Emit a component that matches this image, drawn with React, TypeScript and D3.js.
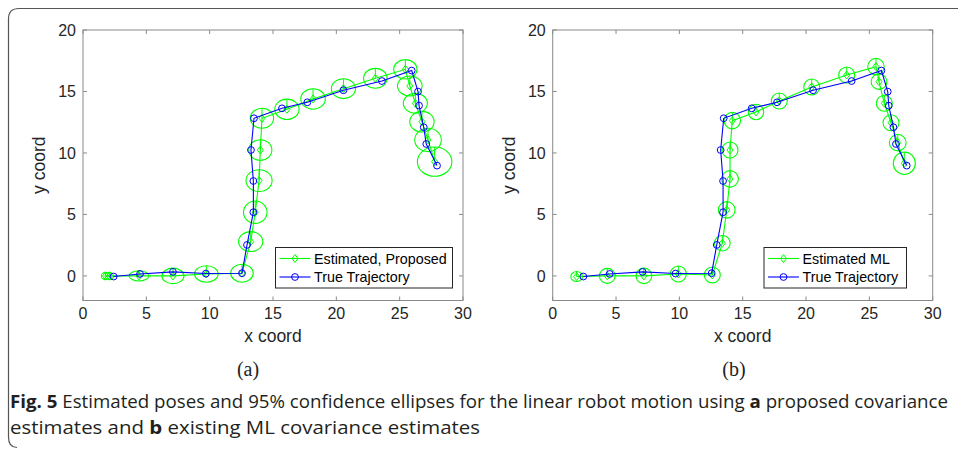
import React from "react";
import * as d3 from "d3";

// ---- data ----
const xTicks = [0, 5, 10, 15, 20, 25, 30];
const yTicks = [0, 5, 10, 15, 20];

// True trajectory (same in both panels)
const trueX = [2.42, 4.5, 7.1, 9.7, 12.55, 12.95, 13.45, 13.45, 13.26, 13.5, 15.71, 17.71, 20.56, 23.6, 25.95, 26.45, 26.53, 26.9, 27.1, 27.95];
const trueY = [-0.05, 0.16, 0.33, 0.19, 0.22, 2.52, 5.18, 7.72, 10.24, 12.82, 13.63, 14.12, 15.1, 15.85, 16.7, 14.99, 13.85, 12.09, 10.73, 8.97];

// Panel (a): proposed estimates and ellipse semi-axes (data units)
const propX = [1.78, 2.07, 4.42, 7.1, 9.74, 12.55, 13.24, 13.6, 13.9, 14.0, 14.13, 16.1, 18.16, 20.56, 23.08, 25.45, 25.8, 26.24, 26.76, 27.24, 27.76];
const propY = [0.0, 0.0, 0.0, 0.0, 0.16, 0.22, 2.79, 5.18, 7.75, 10.24, 12.82, 13.55, 14.39, 15.23, 16.07, 16.8, 15.45, 14.04, 12.54, 11.06, 9.29];
const propRx = [0.33, 0.33, 0.77, 0.87, 0.93, 0.89, 0.96, 0.93, 1.03, 0.91, 0.92, 0.96, 0.97, 0.95, 0.93, 0.92, 0.97, 0.95, 0.96, 1.05, 1.36];
const propRy = [0.3, 0.3, 0.41, 0.63, 0.67, 0.73, 0.81, 0.91, 0.89, 0.84, 0.81, 0.83, 0.83, 0.81, 0.81, 0.79, 0.81, 0.81, 0.84, 0.95, 1.19];

// Panel (b): ML estimates and ellipse semi-axes (data units)
const mlX = [1.89, 4.31, 7.2, 9.92, 12.6, 13.39, 13.74, 14.0, 14.0, 14.18, 16.05, 17.89, 20.45, 23.21, 25.52, 25.76, 26.18, 26.71, 27.24, 27.76];
const mlY = [-0.05, 0.0, 0.0, 0.16, 0.08, 2.66, 5.37, 7.89, 10.24, 12.63, 13.33, 14.23, 15.37, 16.34, 17.02, 15.8, 14.04, 12.46, 10.84, 9.16];
const mlRx = [0.46, 0.62, 0.62, 0.63, 0.63, 0.62, 0.66, 0.66, 0.63, 0.65, 0.61, 0.63, 0.63, 0.63, 0.65, 0.62, 0.63, 0.63, 0.66, 0.87];
const mlRy = [0.41, 0.61, 0.63, 0.65, 0.65, 0.63, 0.67, 0.67, 0.65, 0.67, 0.63, 0.65, 0.65, 0.65, 0.67, 0.63, 0.65, 0.65, 0.67, 0.91];

const GREEN = "#00ff00";
const BLUE = "#0000ff";
const AXIS = "#8a8a8a";
const TEXT = "#262626";
const FONT = "'Liberation Sans', Arial, sans-serif";

type PanelProps = {
  left: number;
  estX: number[];
  estY: number[];
  estRx: number[];
  estRy: number[];
  legendLabel: string;
  legendBox: { x: number; w: number };
  sub: string;
  subX: number;
};

function diamond(cx: number, cy: number, hw = 3, hh = 4) {
  return `M${cx},${cy - hh}L${cx + hw},${cy}L${cx},${cy + hh}L${cx - hw},${cy}Z`;
}

function Panel({ left, estX, estY, estRx, estRy, legendLabel, legendBox, sub, subX }: PanelProps) {
  const x = d3.scaleLinear().domain([0, 30]).range([left, left + 380]);
  const y = d3.scaleLinear().domain([-2, 20]).range([300.5, 30]);
  const [x0, x1] = x.range();
  const [yb, yt] = y.range();
  const estPts: [number, number][] = estX.map((v, i) => [x(v), y(estY[i])]);
  const truePts: [number, number][] = trueX.map((v, i) => [x(v), y(trueY[i])]);
  const lineGen = d3.line();
  const tickLen = 4;
  const midY = (yb + yt) / 2;
  const lgTop = 247.5;
  const lgH = 40.5;
  return (
    <g>
      {/* axes box */}
      <rect x={x0} y={yt} width={x1 - x0} height={yb - yt} fill="white" stroke={AXIS} strokeWidth={1} />
      {xTicks.map((t) => (
        <g key={"xt" + t}>
          <line x1={x(t)} x2={x(t)} y1={yb} y2={yb - tickLen} stroke={AXIS} />
          <line x1={x(t)} x2={x(t)} y1={yt} y2={yt + tickLen} stroke={AXIS} />
          <text x={x(t)} y={319} textAnchor="middle" fontSize={16} fontFamily={FONT} fill={TEXT}>
            {t}
          </text>
        </g>
      ))}
      {yTicks.map((t) => (
        <g key={"yt" + t}>
          <line x1={x0} x2={x0 + tickLen} y1={y(t)} y2={y(t)} stroke={AXIS} />
          <line x1={x1} x2={x1 - tickLen} y1={y(t)} y2={y(t)} stroke={AXIS} />
          <text x={x0 - 7} y={y(t)} dy="0.35em" textAnchor="end" fontSize={16} fontFamily={FONT} fill={TEXT}>
            {t}
          </text>
        </g>
      ))}
      <text x={(x0 + x1) / 2} y={342} textAnchor="middle" fontSize={17.5} fontFamily={FONT} fill={TEXT}>
        x coord
      </text>
      <text
        transform={`translate(${x0 - 38},${midY}) rotate(-90)`}
        textAnchor="middle"
        fontSize={17.5}
        fontFamily={FONT}
        fill={TEXT}
      >
        y coord
      </text>

      {/* estimated trajectory */}
      <path d={lineGen(estPts) || ""} fill="none" stroke={GREEN} strokeWidth={1.1} />
      {estX.map((v, i) => {
        const cx = x(v);
        const cy = y(estY[i]);
        const rx = x(v + estRx[i]) - cx;
        const ry = cy - y(estY[i] + estRy[i]);
        return (
          <g key={"e" + i}>
            <ellipse cx={cx} cy={cy} rx={rx} ry={ry} fill="none" stroke={GREEN} strokeWidth={1.1} />
            <line x1={cx} x2={cx} y1={cy} y2={cy - ry} stroke={GREEN} strokeWidth={1} />
            <path d={diamond(cx, cy)} fill="none" stroke={GREEN} strokeWidth={1} />
          </g>
        );
      })}

      {/* true trajectory */}
      <path d={lineGen(truePts) || ""} fill="none" stroke={BLUE} strokeWidth={1.1} />
      {truePts.map((p, i) => (
        <circle key={"t" + i} cx={p[0]} cy={p[1]} r={3.4} fill="none" stroke={BLUE} strokeWidth={1} />
      ))}

      {/* legend */}
      <rect x={legendBox.x} y={lgTop} width={legendBox.w} height={lgH} fill="white" stroke={TEXT} strokeWidth={1} />
      <line x1={legendBox.x + 4} x2={legendBox.x + 35} y1={lgTop + 11} y2={lgTop + 11} stroke={GREEN} strokeWidth={1.1} />
      <path d={diamond(legendBox.x + 19.5, lgTop + 11)} fill="none" stroke={GREEN} />
      <text x={legendBox.x + 38.5} y={lgTop + 11} dy="0.35em" fontSize={14.3} fontFamily={FONT} fill="#000">
        {legendLabel}
      </text>
      <line x1={legendBox.x + 4} x2={legendBox.x + 35} y1={lgTop + 29.5} y2={lgTop + 29.5} stroke={BLUE} strokeWidth={1.1} />
      <circle cx={legendBox.x + 19.5} cy={lgTop + 29.5} r={3.4} fill="none" stroke={BLUE} />
      <text x={legendBox.x + 38.5} y={lgTop + 29.5} dy="0.35em" fontSize={14.3} fontFamily={FONT} fill="#000">
        True Trajectory
      </text>

      <text x={subX} y={369} dy="0.35em" textAnchor="middle" fontSize={20} fontFamily="'Liberation Serif', 'DejaVu Serif', serif" fill="#222">
        {sub}
      </text>
    </g>
  );
}

export default function App() {
  const capFont = "'Open Sans', 'Noto Sans', sans-serif";
  return (
    <svg
      width={958}
      height={449}
      viewBox="0 0 958 449"
      style={{ position: "absolute", left: 0, top: 0, display: "block", background: "white" }}
    >
      <rect x={0} y={0} width={958} height={449} fill="white" />
      <path d="M958,8.5 H19 Q8.5,8.5 8.5,19 V437 Q8.5,447.5 17,447.5" fill="none" stroke="#555" strokeWidth={1.2} />
      <Panel
        left={83}
        estX={propX}
        estY={propY}
        estRx={propRx}
        estRy={propRy}
        legendLabel="Estimated, Proposed"
        legendBox={{ x: 275.5, w: 177 }}
        sub="(a)"
        subX={248}
      />
      <Panel
        left={552.7}
        estX={mlX}
        estY={mlY}
        estRx={mlRx}
        estRy={mlRy}
        legendLabel="Estimated ML"
        legendBox={{ x: 764, w: 142.5 }}
        sub="(b)"
        subX={734}
      />
      <text x={10} y={408} fontSize={18.5} fontFamily={capFont} fill="#231f20" textLength={938} lengthAdjust="spacingAndGlyphs">
        <tspan fontWeight="bold">Fig. 5</tspan>
        <tspan>{"  Estimated poses and 95% confidence ellipses for the linear robot motion using "}</tspan>
        <tspan fontWeight="bold">a</tspan>
        <tspan>{" proposed covariance"}</tspan>
      </text>
      <text x={10} y={434} fontSize={18.5} fontFamily={capFont} fill="#231f20" textLength={470} lengthAdjust="spacingAndGlyphs">
        <tspan>{"estimates and "}</tspan>
        <tspan fontWeight="bold">b</tspan>
        <tspan>{" existing ML covariance estimates"}</tspan>
      </text>
    </svg>
  );
}
